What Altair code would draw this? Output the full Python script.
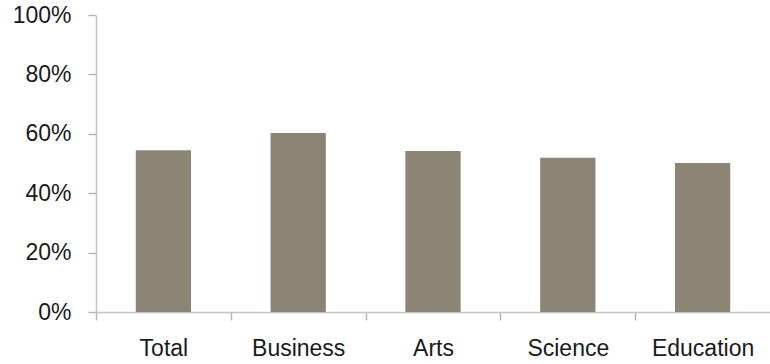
import altair as alt
import pandas as pd

categories = ["Total", "Business", "Arts", "Science", "Education"]
values = [0.545, 0.603, 0.542, 0.519, 0.502]

df = pd.DataFrame({"category": categories, "value": values})

W, H = 674, 297
step = W / len(categories)

chart = alt.Chart(df).mark_bar(color="#8C8575").encode(
    x=alt.X(
        "category:N",
        sort=categories,
        title=None,
        scale=alt.Scale(paddingInner=0.59, paddingOuter=0.295),
        axis=alt.Axis(
            tickOffset=-step / 2,
            labelOffset=step / 2,
            labelAngle=0,
            labelFont="Liberation Sans",
            labelFontSize=23,
            labelColor="#1a1a1a",
            labelPadding=17,
            tickSize=8,
            tickColor="#b5b5b5",
            domainColor="#c4c4c4",
            tickWidth=1.5,
            domainWidth=1.5,
            grid=False,
        ),
    ),
    y=alt.Y(
        "value:Q",
        title=None,
        scale=alt.Scale(domain=[0, 1]),
        axis=alt.Axis(
            values=[0, 0.2, 0.4, 0.6, 0.8, 1.0],
            format=".0%",
            labelFont="Liberation Sans",
            labelFontSize=23,
            labelColor="#1a1a1a",
            labelPadding=17,
            tickSize=8,
            tickColor="#b5b5b5",
            domainColor="#c4c4c4",
            tickWidth=1.5,
            domainWidth=1.5,
            grid=False,
        ),
    ),
).properties(
    width=W,
    height=H,
    autosize=alt.AutoSizeParams(type="none"),
    padding={"left": 96, "top": 15, "right": 0, "bottom": 52},
).configure_view(stroke=None)

chart.save("out.html", embed_options={"renderer": "svg", "actions": False})
